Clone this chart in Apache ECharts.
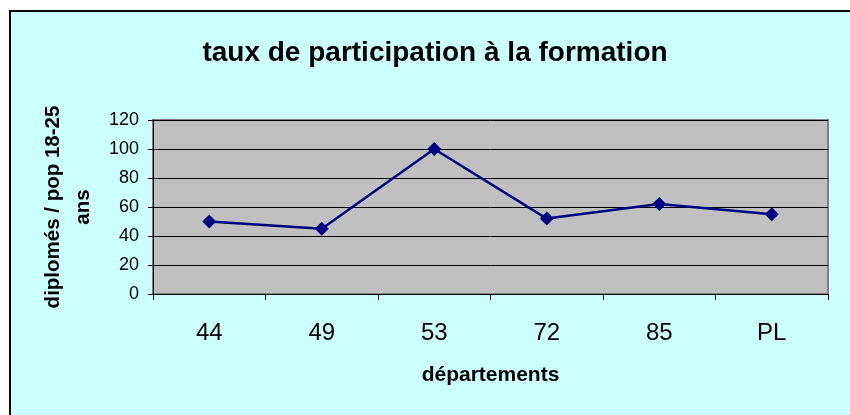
<!DOCTYPE html>
<html>
<head>
<meta charset="utf-8">
<script src="https://cdn.jsdelivr.net/npm/echarts@6/dist/echarts.min.js"></script>
<style>
  html, body { margin: 0; padding: 0; background: #ffffff; }
  #chart { width: 850px; height: 415px; }
</style>
</head>
<body>
<div id="chart"></div>
<script>
const departements = ['44', '49', '53', '72', '85', 'PL'];
const taux = [50, 45, 100, 52, 62, 55];
const yTicks = { min: 0, max: 120, interval: 20 };

const FONT = '"Liberation Sans", Arial, sans-serif';

const chart = echarts.init(document.getElementById('chart'));

chart.setOption({
  animation: false,
  backgroundColor: '#ffffff',
  graphic: [
    {
      // cadre du graphique (seuls les bords gauche et haut sont visibles)
      type: 'rect',
      shape: { x: 10, y: 11, width: 900, height: 500 },
      style: { fill: '#ccffff', stroke: '#000000', lineWidth: 2 },
      z: -10,
      silent: true,
    },
  ],
  title: {
    text: 'taux de participation à la formation',
    left: 430,
    textAlign: 'center',
    top: 34,
    textStyle: { fontFamily: FONT, fontSize: 28, fontWeight: 'bold', color: '#000000' },
  },
  grid: {
    left: 153, right: 22, top: 120, bottom: 121,
    show: true,
    backgroundColor: '#c0c0c0',
    borderColor: '#808080',
    borderWidth: 2,
  },
  xAxis: {
    type: 'category',
    data: departements,
    boundaryGap: true,
    name: 'départements',
    nameLocation: 'middle',
    nameGap: 71,
    nameTextStyle: { fontFamily: FONT, fontSize: 21, fontWeight: 'bold', color: '#000000' },
    axisLine: { lineStyle: { color: '#000000', width: 1 } },
    axisTick: { show: true, length: 6, lineStyle: { color: '#000000' } },
    axisLabel: { fontFamily: FONT, fontSize: 24, color: '#000000', margin: 27 },
    splitLine: { show: false },
  },
  yAxis: {
    type: 'value',
    min: yTicks.min,
    max: yTicks.max,
    interval: yTicks.interval,
    name: 'diplomés / pop 18-25\nans',
    nameLocation: 'middle',
    nameRotate: 90,
    nameGap: 53,
    nameTextStyle: { fontFamily: FONT, fontSize: 20.5, fontWeight: 'bold', color: '#000000', lineHeight: 30, align: 'center' },
    axisLine: { show: true, lineStyle: { color: '#000000', width: 1 } },
    axisTick: { show: true, length: 5, lineStyle: { color: '#000000' } },
    axisLabel: { fontFamily: FONT, fontSize: 18, color: '#000000', margin: 14 },
    splitLine: { show: true, lineStyle: { color: '#000000', width: 1 } },
  },
  series: [
    {
      type: 'line',
      data: taux,
      symbol: 'diamond',
      symbolSize: 14,
      lineStyle: { color: '#000080', width: 2.5 },
      itemStyle: { color: '#000080' },
    },
  ],
});
</script>
</body>
</html>
